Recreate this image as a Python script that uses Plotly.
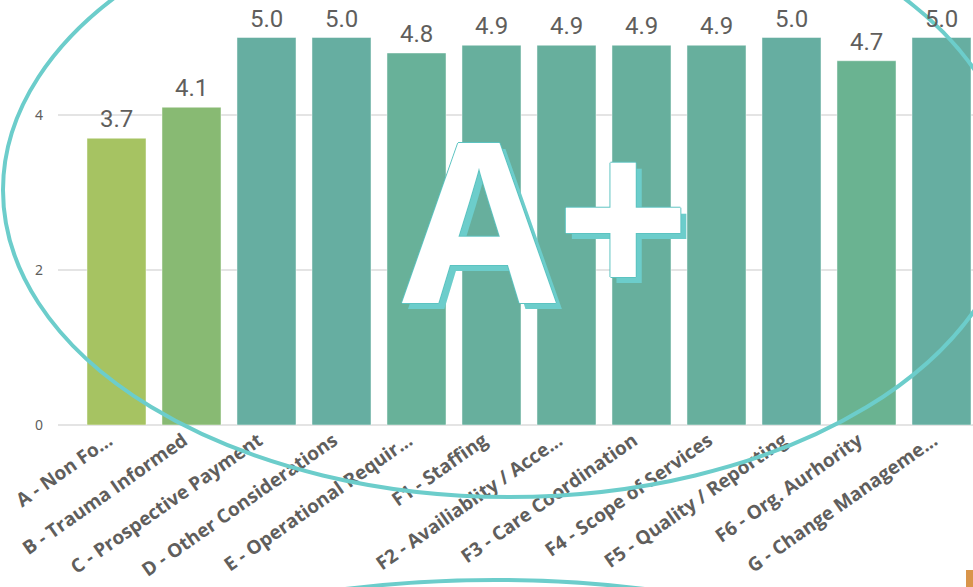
import plotly.graph_objects as go

# ---- data ----
categories = [
    "A - Non Fo...", "B - Trauma Informed", "C - Prospective Payment",
    "D - Other Considerations", "E - Operational Requir...", "F1 - Staffing",
    "F2 - Availiablity / Acce...", "F3 - Care Coordination", "F4 - Scope of Services",
    "F5 - Quality / Reporting", "F6 - Org. Aurhority", "G - Change Manageme...",
]
scores = [3.7, 4.1, 5.0, 5.0, 4.8, 4.9, 4.9, 4.9, 4.9, 5.0, 4.7, 5.0]
y_ticks = [0, 2, 4]
badge_text = "A+"

# ---- layout constants (pixels) ----
W, H = 973, 587
L, R, T, B = 58, 0, 0, 162
PW, PH = W - L - R, H - T - B

def px(x):
    return (x - L) / PW

def py(y):
    return (H - B - y) / PH

TEAL = "#6CCDCB"
GRAY = "#605E5C"

colorscale = [
    [0.0, "#A6C362"], [0.31, "#88BA73"], [0.77, "#6AB391"],
    [0.85, "#68B199"], [0.92, "#67AF9D"], [1.0, "#66AEA1"],
]

xs = list(range(len(categories)))

fig = go.Figure()
fig.add_trace(go.Bar(
    x=xs, y=scores, width=0.787,
    marker=dict(color=scores, colorscale=colorscale, cmin=3.7, cmax=5.0,
                line=dict(color="rgba(255,255,255,0.45)", width=1)),
    hoverinfo="skip",
))

annotations = []
for i, v in enumerate(scores):
    annotations.append(dict(
        x=i, y=v, xref="x", yref="y", text=f"{v:.1f}", showarrow=False,
        yanchor="bottom", yshift=3,
        font=dict(family="Roboto", size=24, color=GRAY),
    ))

# Big "A+" badge
badge_html = (badge_text[0] + "<span style='font-size:236px'>"
              + badge_text[1:] + "</span>")
annotations.append(dict(
    x=px(546), y=py(212), xref="paper", yref="paper", text=badge_html,
    showarrow=False, xanchor="center", yanchor="middle",
    font=dict(family="Open Sans", size=223, color="white", weight=700,
              shadow=("1px 0 0 #5CC3C1, -1px 0 0 #5CC3C1, 0 1px 0 #5CC3C1, "
                      "0 -1px 0 #5CC3C1, 6px 6px 0 " + TEAL)),
))

shapes = [
    dict(type="circle", xref="paper", yref="paper", layer="above",
         x0=px(3), x1=px(1015), y0=py(497), y1=py(-117),
         line=dict(color=TEAL, width=4)),
    dict(type="circle", xref="paper", yref="paper", layer="above",
         x0=px(495 - 615), x1=px(495 + 615), y0=py(1180), y1=py(580),
         line=dict(color=TEAL, width=4)),
    dict(type="rect", xref="paper", yref="paper", layer="above",
         x0=px(966), x1=px(974), y0=py(588), y1=py(570),
         fillcolor="#D9954A", line=dict(width=0)),
]

fig.update_layout(
    width=W, height=H, autosize=False,
    margin=dict(l=L, r=R, t=T, b=B, pad=0),
    paper_bgcolor="white", plot_bgcolor="white",
    showlegend=False, bargap=0.2,
    annotations=annotations, shapes=shapes,
    xaxis=dict(
        range=[-0.78, 11.42], tickmode="array", tickvals=xs, ticktext=categories,
        tickangle=-35, showgrid=False, zeroline=False, showline=False, ticks="",
        tickfont=dict(family="Open Sans", size=19, color=GRAY, weight=700),
        ticklabelshift=-8,
        fixedrange=True, automargin=False,
    ),
    yaxis=dict(
        range=[0, 5.484], tickmode="array", tickvals=y_ticks,
        showgrid=True, gridcolor="#E4E4E4", gridwidth=1.5,
        zeroline=True, zerolinecolor="#E4E4E4", zerolinewidth=1.5,
        showline=False, ticks="", ticklabelstandoff=14,
        tickfont=dict(family="Noto Sans", size=14, color=GRAY),
        fixedrange=True, automargin=False,
    ),
)

fig.write_html("out.html")
